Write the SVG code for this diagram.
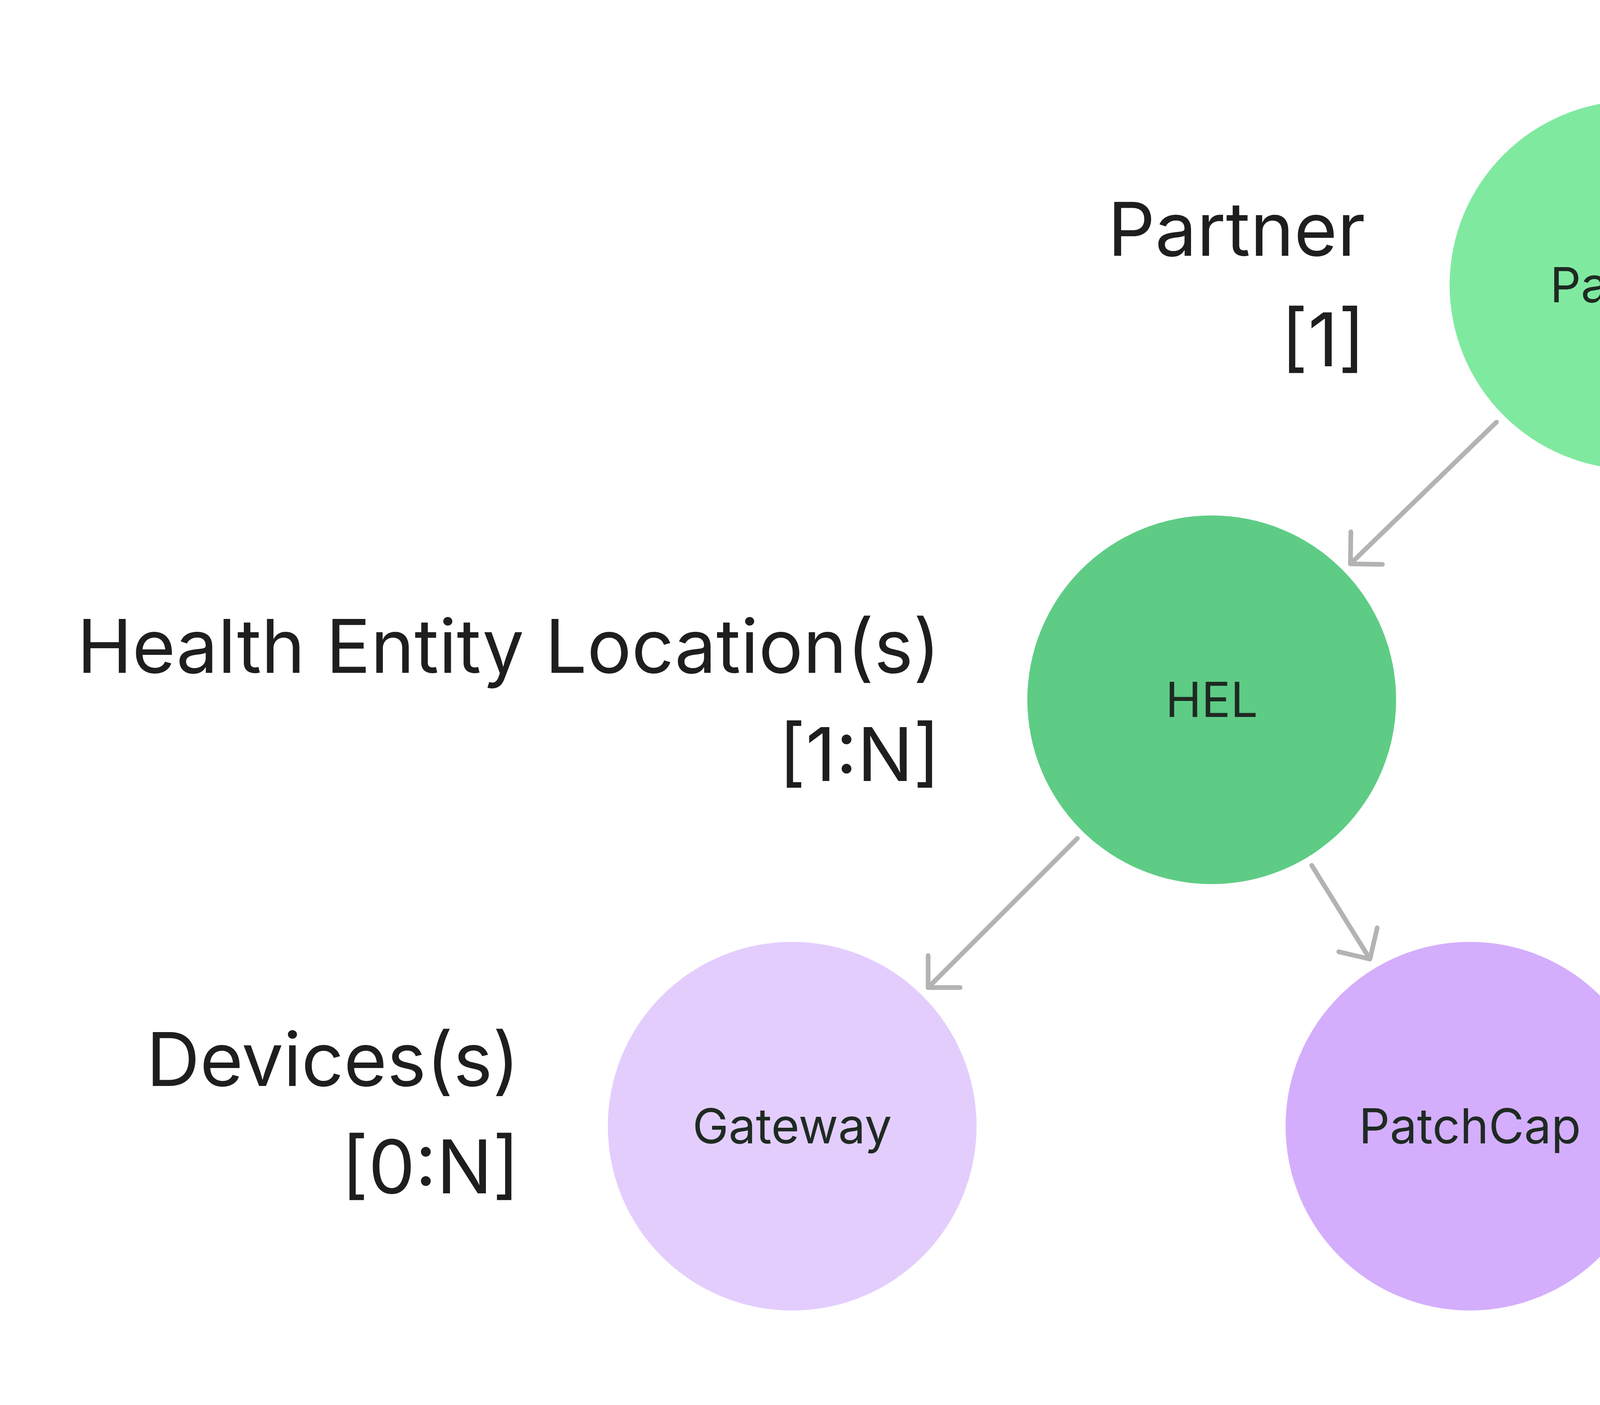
<svg xmlns="http://www.w3.org/2000/svg" width="5960" height="3598" viewBox="0 0 5960 3598">
<style>
.lbl{font-family:Inter,"Liberation Sans",sans-serif;font-size:190px;fill:#1e1e1e;text-anchor:end}
.nt{font-family:Inter,"Liberation Sans",sans-serif;font-size:124px;fill:#1e2a22;text-anchor:middle}
.dot{font-family:Inter,"Liberation Sans",sans-serif;font-size:200px;font-weight:bold;fill:#1e1e1e;text-anchor:middle}
.edge{stroke:#b3b3b3;stroke-width:12;stroke-linecap:round;fill:none}
</style>
<defs>
<marker id="ah" markerUnits="userSpaceOnUse" viewBox="-70 -70 80 140" markerWidth="80" markerHeight="140" refX="0" refY="0" orient="auto">
<path d="M-58,-58 L0,0 L-58,58" fill="none" stroke="#b3b3b3" stroke-width="12" stroke-linecap="round" stroke-linejoin="round"/>
</marker>
</defs>
<rect width="5960" height="3598" fill="#fff"/>
<g id="labels">
<text class="lbl" x="3495" y="655">Partner</text>
<text class="lbl" x="3495" y="938">[1]</text>
<text class="lbl" x="2407" y="1723">Health Entity Location(s)</text>
<text class="lbl" x="2407" y="2000">[1:N]</text>
<text class="lbl" x="1330" y="2781">Devices(s)</text>
<text class="lbl" x="1330" y="3056">[0:N]</text>
</g>
<g id="connectors">
<line class="edge" x1="3831" y1="1081" x2="3457" y2="1444" marker-end="url(#ah)"/>
<line class="edge" x1="4450" y1="1146" x2="4592" y2="1368" marker-end="url(#ah)"/>
<line class="edge" x1="2758" y1="2147" x2="2376" y2="2529" marker-end="url(#ah)"/>
<line class="edge" x1="3358" y1="2216" x2="3507" y2="2456" marker-end="url(#ah)"/>
</g>
<g id="partner"><circle cx="4183" cy="730" r="472" fill="#80e9a0"/><text class="nt" x="4183" y="774">Partner</text></g>
<g id="hel1"><circle cx="3102" cy="1792" r="472" fill="#5ecc85"/><text class="nt" x="3102" y="1836">HEL</text></g>
<g id="hel2"><circle cx="4859" cy="1792" r="472" fill="#5ecc85"/><text class="nt" x="4859" y="1836">HEL</text></g>
<g id="gateway"><circle cx="2028" cy="2884" r="472" fill="#e3cdfd"/><text class="nt" x="2028" y="2928" fill="#2e2638">Gateway</text></g>
<g id="patchcap"><circle cx="3763" cy="2884" r="472" fill="#d4aefc"/><text class="nt" x="3763" y="2928">PatchCap</text></g>
<g id="more1"><text class="dot" x="5646" y="1895">...</text></g>
<g id="more2"><text class="dot" x="4550" y="2990">...</text></g>
</svg>
